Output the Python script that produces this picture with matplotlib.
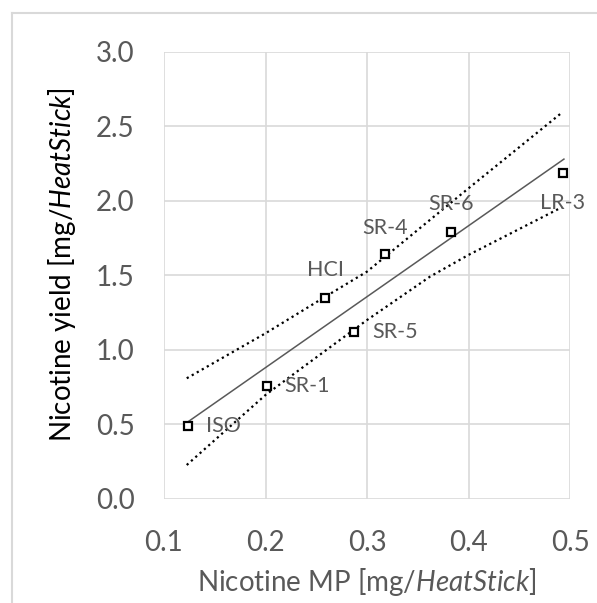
import matplotlib
matplotlib.use("Agg")
import matplotlib.pyplot as plt
from matplotlib.lines import Line2D

plt.rcParams['font.family'] = ['Lato', 'DejaVu Sans']
plt.rcParams['mathtext.fontset'] = 'custom'
plt.rcParams['mathtext.rm'] = 'Lato'
plt.rcParams['mathtext.it'] = 'Lato:italic'

# measured points
labels = ['ISO', 'SR-1', 'HCI', 'SR-5', 'SR-4', 'SR-6', 'LR-3']
nic_mp = [0.124, 0.201, 0.259, 0.287, 0.318, 0.383, 0.493]
nic_yield = [0.489, 0.759, 1.350, 1.122, 1.641, 1.791, 2.185]

# regression line and band
fit_x = [0.123, 0.494]
fit_y = [0.515, 2.281]
upper_x = [0.1224, 0.2, 0.259, 0.3, 0.362, 0.4, 0.492]
upper_y = [0.81, 1.112, 1.358, 1.526, 1.873, 2.085, 2.593]
lower_x = [0.1224, 0.2, 0.234, 0.3, 0.362, 0.4, 0.492]
lower_y = [0.228, 0.698, 0.870, 1.201, 1.492, 1.638, 1.958]

# label placement (offset in points, ha, va)
label_pos = {
    'ISO': (13, 0, 'left', 'center'),
    'SR-1': (13, 0, 'left', 'center'),
    'HCI': (0, 20, 'center', 'center'),
    'SR-5': (13, 0, 'left', 'center'),
    'SR-4': (0, 19, 'center', 'center'),
    'SR-6': (0, 20, 'center', 'center'),
    'LR-3': (0, -21, 'center', 'center'),
}

gray = '#595959'
grid = '#d9d9d9'

fig = plt.figure(figsize=(5.97, 6.03), dpi=100)
ax = fig.add_axes([0.2747, 0.1725, 0.6801, 0.7413])

# outer chart border (only top/left visible in crop)
fig.add_artist(Line2D([12 / 597, 1], [1 - 13 / 603, 1 - 13 / 603], color=grid, lw=1.5))
fig.add_artist(Line2D([12 / 597, 12 / 597], [0, 1 - 13 / 603], color=grid, lw=1.5))

ax.plot(fit_x, fit_y, color=gray, lw=1.1, zorder=3)
ax.plot(upper_x, upper_y, color='black', lw=1.6, ls=(0, (1, 1.6)), zorder=3)
ax.plot(lower_x, lower_y, color='black', lw=1.6, ls=(0, (1, 1.6)), zorder=3)
ax.plot(nic_mp, nic_yield, ls='none', marker='s', ms=5.5, mfc='white',
        mec='black', mew=1.6, zorder=4)

for name, x, y in zip(labels, nic_mp, nic_yield):
    dx, dy, ha, va = label_pos[name]
    ax.annotate(name, (x, y), xytext=(dx, dy), textcoords='offset points',
                ha=ha, va=va, fontsize=15.5, color=gray, zorder=5)

ax.set_xlim(0.1, 0.5)
ax.set_ylim(0, 3)
ax.set_xticks([0.1, 0.2, 0.3, 0.4, 0.5])
ax.set_yticks([0, 0.5, 1.0, 1.5, 2.0, 2.5, 3.0])
ax.set_xticklabels(['0.1', '0.2', '0.3', '0.4', '0.5'])
ax.set_yticklabels(['0.0', '0.5', '1.0', '1.5', '2.0', '2.5', '3.0'])
ax.tick_params(length=0, labelsize=20, colors=gray)
ax.tick_params(axis='x', pad=22)
ax.tick_params(axis='y', pad=21)
ax.grid(True, color=grid, lw=1.2)
ax.set_axisbelow(True)
for s in ax.spines.values():
    s.set_visible(False)

ax.set_xlabel(r'Nicotine MP [mg/$\mathit{HeatStick}$]', fontsize=20, color=gray, va='center')
ax.set_ylabel(r'Nicotine yield [mg/$\mathit{HeatStick}$]', fontsize=20, color='black', va='center')
ax.xaxis.set_label_coords(0.5, -0.186)
ax.yaxis.set_label_coords(-0.251, 0.525)

fig.savefig('out.png', dpi=100)
